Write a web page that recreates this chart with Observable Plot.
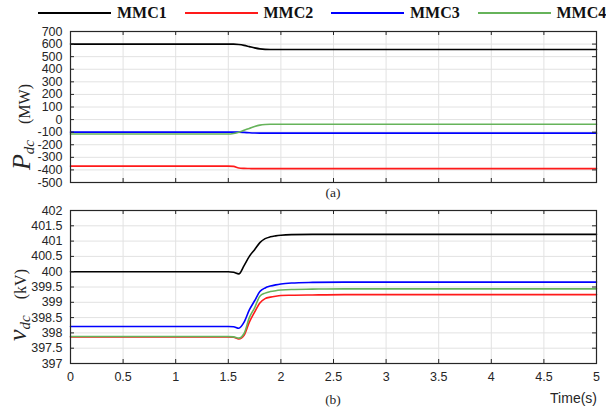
<!DOCTYPE html>
<html><head><meta charset="utf-8">
<script src="https://cdn.jsdelivr.net/npm/d3@7"></script>
<script src="https://cdn.jsdelivr.net/npm/@observablehq/plot@0.6"></script>
<style>
body{margin:0;background:#fff;}
#wrap{position:relative;width:606px;height:413px;overflow:hidden;}
#wrap svg{display:block;}
.lg{position:absolute;top:3px;height:20px;display:flex;align-items:center;font-family:"Liberation Serif","Times New Roman",serif;font-weight:bold;font-size:16px;color:#111;white-space:nowrap;}
.lg i{display:inline-block;width:73px;height:0;border-top:2px solid;margin-right:6px;}
</style></head><body><div id="wrap"></div>
<script>
// ---- data ----
const seriesNames = ["MMC1", "MMC2", "MMC3", "MMC4"];
const seriesColors = ["#000000", "#ff1a1a", "#0000ff", "#66b35a"];

// (a) DC power, MW
const tPower = [0, 1.5, 1.55, 1.6, 1.65, 1.7, 1.75, 1.8, 1.85, 1.9, 2.0, 5];
const pMMC1 = [600, 600, 600, 597, 590, 580, 570, 562, 558, 557, 557, 557];
const pMMC2 = [-370, -370, -372, -385, -388, -389, -390, -390, -390, -390, -390, -390];
const pMMC3 = [-100, -100, -100, -100, -102, -105, -107, -108, -108, -108, -108, -108];
const pMMC4 = [-115, -115, -110, -100, -85, -70, -55, -44, -39, -37, -37, -37];

// (b) DC voltage, kV
const tVolt = [0, 1.5, 1.55, 1.6, 1.65, 1.7, 1.75, 1.8, 1.85, 1.9, 1.95, 2.0, 2.1, 2.3, 2.6, 5];
const vMMC1 = [400, 400, 399.98, 399.93, 400.2, 400.5, 400.72, 400.95, 401.08, 401.14, 401.17, 401.19, 401.21, 401.22, 401.22, 401.22];
const vMMC2 = [397.87, 397.87, 397.86, 397.8, 397.92, 398.35, 398.68, 398.98, 399.12, 399.17, 399.2, 399.22, 399.23, 399.24, 399.25, 399.25];
const vMMC3 = [398.21, 398.21, 398.2, 398.15, 398.35, 398.75, 399.05, 399.35, 399.47, 399.53, 399.57, 399.6, 399.63, 399.65, 399.66, 399.66];
const vMMC4 = [397.88, 397.88, 397.87, 397.83, 397.98, 398.5, 398.82, 399.2, 399.3, 399.35, 399.38, 399.4, 399.42, 399.43, 399.44, 399.44];

const xTicks = [0, 0.5, 1, 1.5, 2, 2.5, 3, 3.5, 4, 4.5, 5];
const pTicks = [700, 600, 500, 400, 300, 200, 100, 0, -100, -200, -300, -400, -500];
const vTicks = [402, 401.5, 401, 400.5, 400, 399.5, 399, 398.5, 398, 397.5, 397];

// ---- build tables ----
const powerRows = [pMMC1, pMMC2, pMMC3, pMMC4].flatMap((vals, i) =>
  vals.map((v, j) => ({t: tPower[j], v, s: seriesNames[i]})));
const voltRows = [vMMC1, vMMC2, vMMC3, vMMC4].flatMap((vals, i) =>
  vals.map((v, j) => ({t: tVolt[j], v, s: seriesNames[i]})));

const W = 606, ML = 70, MR = 10;
const PW = W - ML - MR;
const frameColor = "#262626";
const gridColor = "#e2e2e2";
const fontStyle = {fontFamily: "'Liberation Sans', Arial, sans-serif", fontSize: "12.5px", color: "#262626", background: "transparent", overflow: "visible"};

function panel({rows, yDomain, yTicks, height, mt, mb, showX}) {
  const PH = height - mt - mb;
  const marks = [
    Plot.gridX(xTicks, {stroke: gridColor, strokeOpacity: 1}),
    Plot.gridY(yTicks, {stroke: gridColor, strokeOpacity: 1}),
    Plot.axisY(yTicks, {tickSize: 0, tickPadding: 8, tickFormat: d => String(d), fill: "#262626", label: null}),
  ];
  if (showX) marks.push(Plot.axisX(xTicks, {tickSize: 0, tickPadding: 9, tickFormat: d => String(d), fill: "#262626", label: null}));
  seriesNames.forEach((name, i) => {
    marks.push(Plot.line(rows.filter(r => r.s === name), {x: "t", y: "v", stroke: seriesColors[i], strokeWidth: 1.6, curve: "monotone-x"}));
  });
  marks.push(
    Plot.tickY(yTicks, {y: d => d, insetRight: PW - 4, stroke: frameColor, strokeWidth: 1}),
    Plot.tickY(yTicks, {y: d => d, insetLeft: PW - 4, stroke: frameColor, strokeWidth: 1}),
    Plot.tickX(xTicks, {x: d => d, insetBottom: PH - 4, stroke: frameColor, strokeWidth: 1}),
    Plot.tickX(xTicks, {x: d => d, insetTop: PH - 4, stroke: frameColor, strokeWidth: 1}),
    Plot.frame({stroke: frameColor, strokeWidth: 1.2})
  );
  return Plot.plot({
    width: W, height, marginLeft: ML, marginRight: MR, marginTop: mt, marginBottom: mb,
    x: {domain: [0, 5], axis: null, label: null},
    y: {domain: yDomain, axis: null, label: null},
    style: fontStyle,
    marks
  });
}

const topPlot = panel({rows: powerRows, yDomain: [-500, 700], yTicks: pTicks, height: 200, mt: 31, mb: 18, showX: false});
const botPlot = panel({rows: voltRows, yDomain: [397, 402], yTicks: vTicks, height: 213, mt: 10, mb: 50, showX: true});

const wrap = document.getElementById("wrap");
wrap.appendChild(topPlot);
wrap.appendChild(botPlot);

// y-axis titles and captions
function yTitle(svg, x, y, sym, unit) {
  const t = d3.select(svg).append("text")
    .attr("transform", `translate(${x},${y}) rotate(-90)`)
    .attr("text-anchor", "middle")
    .attr("fill", "#262626")
    .style("font-family", "'Liberation Serif','Times New Roman',serif");
  t.append("tspan").attr("font-style", "italic").attr("font-size", "26px").text(sym);
  t.append("tspan").attr("font-style", "italic").attr("font-size", "15px").attr("dy", 4).text("dc");
  t.append("tspan").attr("font-size", "16px").attr("dy", -4).text("\u2003" + unit);
}
yTitle(topPlot, 30, 127, "P", "(MW)");
yTitle(botPlot, 26, 105, "v", "(kV)");

function caption(svg, x, y, txt, anchor, family, size) {
  d3.select(svg).append("text").attr("x", x).attr("y", y).attr("text-anchor", anchor)
    .attr("fill", "#262626").style("font-family", family).style("font-size", size).text(txt);
}
caption(topPlot, 333, 197, "(a)", "middle", "'Liberation Serif',serif", "13.5px");
caption(botPlot, 333, 204, "(b)", "middle", "'Liberation Serif',serif", "13.5px");
caption(botPlot, 597, 203, "Time(s)", "end", "'Liberation Sans',Arial,sans-serif", "14px");

// legend
seriesNames.forEach((name, i) => {
  const d = document.createElement("div");
  d.className = "lg";
  d.style.left = (38 + i * 146.5) + "px";
  const sw = document.createElement("i");
  sw.style.borderTopColor = seriesColors[i];
  d.appendChild(sw);
  d.appendChild(document.createTextNode(name));
  wrap.appendChild(d);
});
</script>
</body></html>
